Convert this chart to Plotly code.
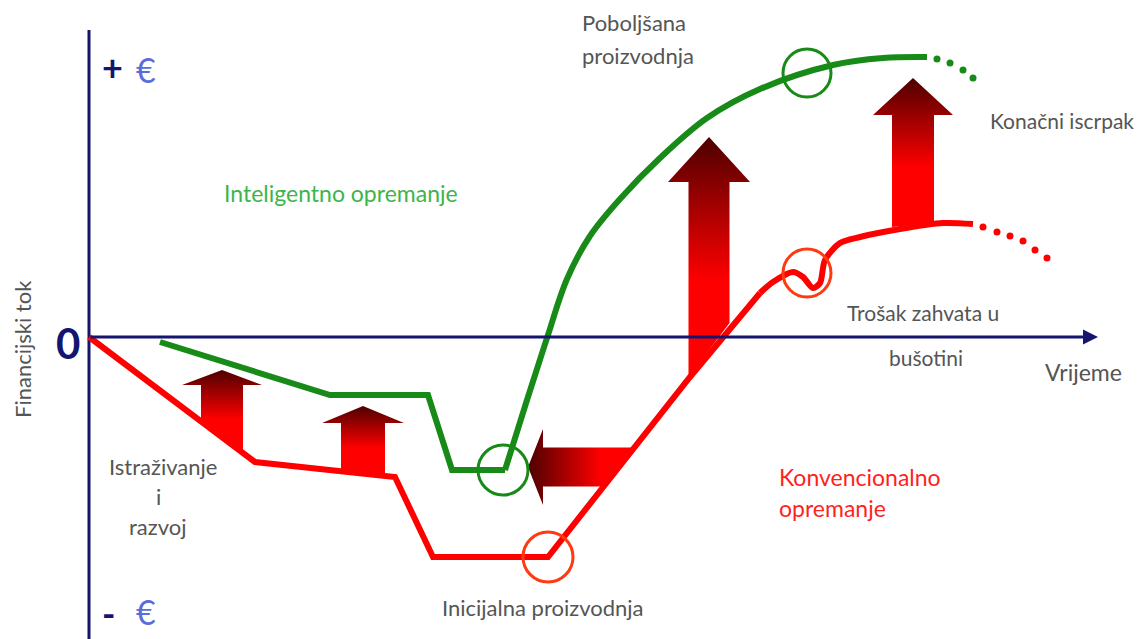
import plotly.graph_objects as go

# Canvas: x = time (px-like units), y = financial flow (0 on the time axis)
W, H = 1137, 639
Y_TOP, Y_BOT = 337, -302

# Conventional equipping (red)
red_lin_x = [89, 255, 395, 433, 548, 633, 690, 760]
red_lin_y = [0, -125, -140, -220, -220, -113, -40, 44]
red_sp_x = [760, 773, 793, 803, 813, 820, 825, 840, 860, 900, 943, 973]
red_sp_y = [44, 55, 65, 60, 49, 54, 77, 94, 100, 108, 114, 113]
red_dot_x = [983, 997, 1010, 1023, 1035, 1047]
red_dot_y = [110, 105, 101, 96, 87, 79]

# Intelligent equipping (green)
green_lin_x = [160, 330, 428, 452, 505]
green_lin_y = [-5, -58, -58, -133, -133]
green_sp_x = [505, 527, 547, 567, 590, 620, 660, 707, 760, 833, 883, 927]
green_sp_y = [-133, -63, -1, 58, 101, 138, 179, 219, 248, 272, 279, 280]
green_dot_x = [937, 950, 963, 973]
green_dot_y = [278, 274, 267, 259]

# Highlight circles: (x, y, radius)
green_circles = [(503, -133, 25), (807, 264, 24)]
red_circles = [(548, -220, 25), (807, 64, 24)]

# Up arrows: x centre, shaft half width, head half width, tip y, head base y, tail left y, tail right y
up_arrows = [
    (222, 21, 40, -33, -48, -84, -115),
    (363, 22, 41, -69, -86, -134, -139),
    (709, 20.5, 41, 200, 155, -40, 14),
    (913, 21, 40, 259, 222, 110, 114),
]
# Left arrow: tip x, tip y, head base x, head half height, shaft half height, tail top x, tail bottom x
left_arrow = (528, -130, 543, 38, 19.5, 632, 603)

GREEN = "#178a17"
RED = "#ff0000"
CIRCLE_RED = "#ff3a12"
NAVY = "#15156e"
DARK = "#4e0000"
GRAY = "#555555"
FONT = "Lato"

fig = go.Figure()

# gradient arrows
for cx, sw, hw, tip, hb, tl, tr in up_arrows:
    xs = [cx - sw, cx - sw, cx - hw, cx, cx + hw, cx + sw, cx + sw, cx - sw]
    ys = [tl, hb, hb, tip, hb, hb, tr, tl]
    fig.add_trace(go.Scatter(
        x=xs, y=ys, mode="lines", fill="toself", line=dict(width=0),
        fillgradient=dict(type="vertical",
                          colorscale=[[0, RED], [0.4, RED], [1, DARK]]),
        hoverinfo="skip", showlegend=False))

tx, ty, hx, hh, sh, ttx, tbx = left_arrow
fig.add_trace(go.Scatter(
    x=[tx, hx, hx, ttx, tbx, hx, hx, tx],
    y=[ty, ty + hh, ty + sh, ty + sh, ty - sh, ty - sh, ty - hh, ty],
    mode="lines", fill="toself", line=dict(width=0),
    fillgradient=dict(type="horizontal",
                      colorscale=[[0, DARK], [0.7, RED], [1, RED]]),
    hoverinfo="skip", showlegend=False))

# curves
fig.add_trace(go.Scatter(x=red_lin_x, y=red_lin_y, mode="lines",
                         line=dict(color=RED, width=6), hoverinfo="skip", showlegend=False))
fig.add_trace(go.Scatter(x=red_sp_x, y=red_sp_y, mode="lines",
                         line=dict(color=RED, width=6, shape="spline", smoothing=0.8),
                         hoverinfo="skip", showlegend=False))
fig.add_trace(go.Scatter(x=red_dot_x, y=red_dot_y, mode="markers",
                         marker=dict(color=RED, size=7), hoverinfo="skip", showlegend=False))
fig.add_trace(go.Scatter(x=green_lin_x, y=green_lin_y, mode="lines",
                         line=dict(color=GREEN, width=6), hoverinfo="skip", showlegend=False))
fig.add_trace(go.Scatter(x=green_sp_x, y=green_sp_y, mode="lines",
                         line=dict(color=GREEN, width=6, shape="spline", smoothing=1.0),
                         hoverinfo="skip", showlegend=False))
fig.add_trace(go.Scatter(x=green_dot_x, y=green_dot_y, mode="markers",
                         marker=dict(color=GREEN, size=7), hoverinfo="skip", showlegend=False))

# circles
for circles, col in [(green_circles, GREEN), (red_circles, CIRCLE_RED)]:
    for cx, cy, r in circles:
        fig.add_shape(type="circle", x0=cx - r, x1=cx + r, y0=cy - r, y1=cy + r,
                      line=dict(color=col, width=3))

# axes
fig.add_shape(type="line", x0=89, x1=89, y0=307, y1=Y_BOT, line=dict(color=NAVY, width=3), layer="below")
fig.add_annotation(x=1098, y=0, ax=89, ay=0, xref="x", yref="y", axref="x", ayref="y",
                   text="", showarrow=True, arrowhead=2, arrowsize=1, arrowwidth=3,
                   arrowcolor=NAVY)

labels = [
    ("Poboljšana", 580, 315, GRAY, 22, "left"),
    ("proizvodnja", 580, 282, GRAY, 22, "left"),
    ("Inteligentno opremanje", 222, 144, "#3db54a", 23, "left"),
    ("Konačni iscrpak", 988, 217, GRAY, 21, "left"),
    ("Trošak zahvata u", 845, 25, GRAY, 21, "left"),
    ("bušotini", 887, -20, GRAY, 21, "left"),
    ("Vrijeme", 1043, -35, GRAY, 23, "left"),
    ("Istraživanje", 163, -129, GRAY, 22, "center"),
    ("i", 158, -159, GRAY, 22, "center"),
    ("razvoj", 158, -189, GRAY, 22, "center"),
    ("Konvencionalno", 777, -140, "#ff1f1f", 23, "left"),
    ("opremanje", 777, -171, "#ff1f1f", 23, "left"),
    ("Inicijalna proizvodnja", 440, -270, GRAY, 22, "left"),
]
for text, x, y, col, size, anchor in labels:
    fig.add_annotation(x=x, y=y, text=text, showarrow=False, xanchor=anchor, yanchor="middle",
                       font=dict(family=FONT, size=size, color=col))

fig.add_annotation(x=22, y=-12, text="Financijski tok", textangle=-90, showarrow=False,
                   font=dict(family=FONT, size=22, color=GRAY))
fig.add_annotation(x=68, y=-6, text="<b>0</b>", showarrow=False,
                   font=dict(family=FONT, size=42, color=NAVY))
fig.add_annotation(x=112, y=270, text="<b>+</b>", showarrow=False,
                   font=dict(family=FONT, size=36, color=NAVY))
fig.add_annotation(x=146, y=268, text="€", showarrow=False,
                   font=dict(family=FONT, size=34, color="#5a6ddc"))
fig.add_annotation(x=108, y=-276, text="<b>-</b>", showarrow=False,
                   font=dict(family=FONT, size=36, color=NAVY))
fig.add_annotation(x=146, y=-274, text="€", showarrow=False,
                   font=dict(family=FONT, size=34, color="#5a6ddc"))

fig.update_layout(
    width=W, height=H,
    margin=dict(l=0, r=0, t=0, b=0),
    plot_bgcolor="white", paper_bgcolor="white",
    xaxis=dict(range=[0, W], visible=False, fixedrange=True),
    yaxis=dict(range=[Y_BOT, Y_TOP], visible=False, fixedrange=True),
    showlegend=False,
)

fig.write_html("out.html", config={"displayModeBar": False},
               post_script="document.body.style.margin='0';")
